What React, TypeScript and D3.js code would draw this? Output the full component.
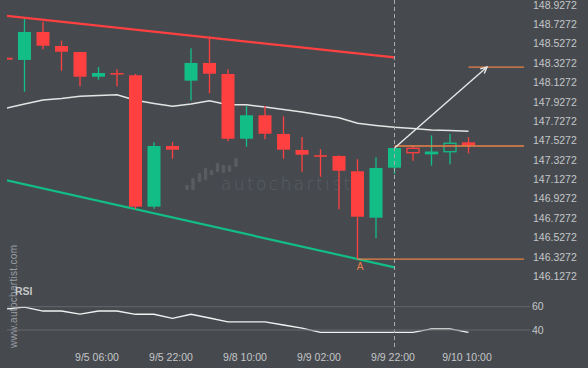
import React from "react";
import * as d3 from "d3";

// candle data, 4h bars (index = position on the x axis)
const opens = [148.383, 148.36, 148.649, 148.504, 148.442, 148.187, 148.225, 148.202, 146.846, 147.472, 148.146, 148.329, 148.215, 147.547, 147.789, 147.596, 147.431, 147.376, 147.369, 147.211, 146.732, 147.248, 147.448, 147.405, 147.413, 147.503];
const highs = [148.39, 148.783, 148.752, 148.559, 148.445, 148.287, 148.264, 148.215, 147.51, 147.513, 148.48, 148.584, 148.264, 147.885, 147.885, 147.778, 147.565, 147.438, 147.376, 147.335, 147.355, 147.455, 147.475, 147.582, 147.596, 147.562];
const lows = [148.36, 148.032, 148.47, 148.249, 148.088, 148.156, 148.088, 146.822, 146.825, 147.341, 147.942, 148.016, 147.52, 147.465, 147.541, 147.341, 147.207, 147.155, 146.819, 146.305, 146.519, 147.183, 147.32, 147.269, 147.283, 147.397];
const closes = [148.363, 148.649, 148.507, 148.445, 148.187, 148.225, 148.222, 146.846, 147.472, 147.434, 148.329, 148.218, 147.547, 147.789, 147.599, 147.434, 147.382, 147.373, 147.217, 146.742, 147.245, 147.451, 147.403, 147.408, 147.5, 147.482];
const movingAvg = [147.861, 147.905, 147.947, 147.962, 147.985, 147.993, 148.001, 147.944, 147.911, 147.882, 147.905, 147.94, 147.898, 147.898, 147.874, 147.849, 147.823, 147.792, 147.764, 147.706, 147.684, 147.665, 147.653, 147.637, 147.632, 147.624];
const rsiValues = [58, 59.7, 56.3, 56.3, 53.7, 56.3, 56.3, 53.5, 53.5, 50, 53.5, 50.3, 46.9, 46.9, 46.9, 44.3, 41.7, 38, 38, 38, 38, 38, 38, 40.9, 40.9, 38];

const priceTicks = [146.1272, 146.3272, 146.5272, 146.7272, 146.9272, 147.1272, 147.3272, 147.5272, 147.7272, 147.9272, 148.1272, 148.3272, 148.5272, 148.7272, 148.9272];
const rsiTicks = [60, 40];
const timeTickIdx = [5, 9, 13, 17, 21, 25];
const timeTickLabels = ["9/5 06:00", "9/5 22:00", "9/8 10:00", "9/9 02:00", "9/9 22:00", "9/10 10:00"];

// channel lines [index, price]
const resistance = [[0, 148.815], [21, 148.386]];
const support = [[0, 147.12], [21, 146.22]];
const breakoutIdx = 21;
const pointAIdx = 19;
const pointAPrice = 146.305;
const breakLevel = 147.472;
const targetIdx = 26;
const targetPrice = 148.287;

const W = 588, H = 368;
const BG = "#464a4f";
const GREEN = "#13bd86";
const RED = "#ff4040";
const ORANGE = "#ea8147";
const TXT = "#c4c6c8";
const FONT = "'Liberation Sans', Arial, sans-serif";

// watermark logo bars (decoration)
const logoBars = [[187, 185, 190], [193, 178, 190], [199.5, 173, 182], [205.5, 168, 180], [211.5, 170, 175], [217.5, 163, 172], [223.5, 165, 173], [229.5, 165, 172], [236, 158, 167]];

export default function App() {
  const left = 7, right = 524;
  const x = d3.scaleLinear().domain([0, 28]).range([6, 524]);
  const y = d3.scaleLinear().domain([146.1272, 148.9272]).range([276.3, 5]);
  const r = d3.scaleLinear().domain([40, 60]).range([330, 306.7]);
  const cw = 13;

  const maLine = d3.line<number>().x((d, i) => x(i)).y((d) => y(d))(movingAvg);
  const rsiLine = d3.line<number>().x((d, i) => x(i)).y((d) => r(d))(rsiValues);

  const ax = x(breakoutIdx), ay = y(closes[breakoutIdx]);
  const tx = x(targetIdx), ty = y(targetPrice);
  const ang = Math.atan2(ty - ay, tx - ax);
  const ah = 7;
  const head = [ang + Math.PI - 0.45, ang + Math.PI + 0.45].map((a) => [tx + ah * Math.cos(a), ty + ah * Math.sin(a)]);

  return (
    <div style={{ position: "fixed", left: 0, top: 0 }}>
      <svg width={W} height={H} style={{ display: "block", fontFamily: FONT }}>
        <rect width={W} height={H} fill={BG} />
        <defs>
          <clipPath id="plot">
            <rect x={left} y={0} width={right - left} height={345} />
          </clipPath>
        </defs>

        {/* watermark */}
        <g fill="#595d62">
          {logoBars.map((b, i) => (
            <rect key={i} x={b[0] - 1.7} y={b[1]} width={3.4} height={b[2] - b[1]} rx={1} />
          ))}
          <text x={221} y={190} fontSize={17} letterSpacing={2.4} fontFamily="'DejaVu Sans', sans-serif" fontWeight={300}>autochartist</text>
        </g>
        <text transform="translate(17,348) rotate(-90)" fontSize={10} fill="#9a9da2" letterSpacing={0.3}>www.autochartist.com</text>

        {/* price axis */}
        {priceTicks.map((t) => (
          <text key={t} x={533} y={y(t)} dy="0.35em" fontSize={10.5} fill={TXT}>{t.toFixed(4)}</text>
        ))}

        <g clipPath="url(#plot)">
          {/* moving average */}
          <path d={maLine || ""} fill="none" stroke="#e4e4e4" strokeWidth={1.5} />
          {/* channel */}
          <line x1={x(resistance[0][0])} y1={y(resistance[0][1])} x2={x(resistance[1][0])} y2={y(resistance[1][1])} stroke={RED} strokeWidth={2.2} />
          <line x1={x(support[0][0])} y1={y(support[0][1])} x2={x(support[1][0])} y2={y(support[1][1])} stroke={GREEN} strokeWidth={2.2} />
          {/* candles */}
          {opens.map((o, i) => {
            const c = closes[i];
            const up = c >= o;
            const col = up ? GREEN : RED;
            const hollow = i > breakoutIdx;
            const top = y(Math.max(o, c));
            const h = Math.max(1.5, y(Math.min(o, c)) - top);
            const cx = x(i);
            return (
              <g key={i}>
                <line x1={cx} x2={cx} y1={y(highs[i])} y2={y(lows[i])} stroke={col} strokeWidth={1.3} />
                {hollow ? (
                  <rect x={cx - cw / 2 + 0.5} y={top} width={cw - 1} height={h} fill={h > 3 ? BG : col} stroke={col} strokeWidth={1.3} />
                ) : (
                  <rect x={cx - cw / 2} y={top} width={cw} height={h} fill={col} />
                )}
              </g>
            );
          })}
          {/* levels */}
          <line x1={x(pointAIdx)} x2={right} y1={y(pointAPrice)} y2={y(pointAPrice)} stroke={ORANGE} strokeWidth={1.2} />
          <line x1={x(breakoutIdx)} x2={right} y1={y(breakLevel)} y2={y(breakLevel)} stroke={ORANGE} strokeWidth={1.4} />
          <line x1={x(targetIdx - 1)} x2={right} y1={ty} y2={ty} stroke={ORANGE} strokeWidth={1.2} />
          {/* target arrow */}
          <line x1={ax} y1={ay} x2={tx} y2={ty} stroke="#e8e8e8" strokeWidth={1.4} />
          <polyline points={`${head[0][0]},${head[0][1]} ${tx},${ty} ${head[1][0]},${head[1][1]}`} fill="none" stroke="#e8e8e8" strokeWidth={1.4} />
          {/* RSI line */}
          <path d={rsiLine || ""} fill="none" stroke="#f2f2f2" strokeWidth={1.3} />
        </g>
        <text x={x(pointAIdx) + 2.5} y={270} fontSize={10} fill={ORANGE} textAnchor="middle">A</text>

        {/* breakout time marker */}
        <line x1={x(breakoutIdx)} x2={x(breakoutIdx)} y1={0} y2={350} stroke="#a8abaf" strokeWidth={1} strokeDasharray="4,3" />

        {/* RSI panel */}
        <text x={15} y={295} fontSize={10.5} fontWeight="bold" fill={TXT}>RSI</text>
        {rsiTicks.map((t) => (
          <g key={t}>
            <line x1={left} x2={530} y1={r(t)} y2={r(t)} stroke="#64676c" strokeWidth={1} />
            <text x={532} y={r(t)} dy="0.35em" fontSize={10.5} fill={TXT}>{t}</text>
          </g>
        ))}

        {/* time axis */}
        {timeTickIdx.map((t, i) => (
          <text key={t} x={x(t) - 1.5} y={360.5} fontSize={10.5} fill={TXT} textAnchor="middle">{timeTickLabels[i]}</text>
        ))}
      </svg>
    </div>
  );
}
